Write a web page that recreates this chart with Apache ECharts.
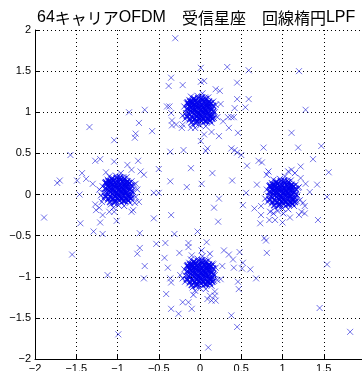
<!DOCTYPE html>
<html>
<head>
<meta charset="utf-8">
<script src="https://cdn.jsdelivr.net/npm/echarts@6/dist/echarts.min.js"></script>
<style>
  html, body { margin: 0; padding: 0; background: #fff; }
  #chart { width: 362px; height: 371px; }
</style>
</head>
<body>
<div id="chart"></div>
<script>
// Received constellation of a 64-carrier OFDM link (QPSK), after an elliptic LPF.
const titleParts = ['64', 'キャリア', 'OFDM', '受信星座', '回線楕円', 'LPF'];

// Axis ticks shared by both axes
const tickValues = [-2, -1.5, -1, -0.5, 0, 0.5, 1, 1.5, 2];
const tickText = ['\u22122', '\u22121.5', '\u22121', '\u22120.5', '0', '0.5', '1', '1.5', '2'];

// Cluster around symbol (0, 1): outer spread
const clusterTop = [
  [0.00,1.02],[0.05,1.04],[-0.04,1.05],[0.02,0.97],[-0.06,1.00],[0.09,1.01],[-0.09,1.08],[0.03,1.11],
  [-0.02,0.92],[0.11,1.09],[-0.12,0.97],[0.07,0.93],[-0.07,0.91],[0.13,0.96],[-0.14,1.04],[0.01,1.16],
  [-0.05,1.15],[0.08,1.14],[0.15,1.05],[-0.10,1.13],[0.04,0.87],[-0.13,0.90],[0.12,0.89],[-0.17,0.99],
  [0.18,1.00],[-0.03,1.20],[0.00,0.84],[0.16,1.13],[-0.16,1.11],[0.10,1.18],[-0.09,0.85],[0.19,1.09],
  [-0.19,1.07],[0.07,0.83],[-0.11,1.19],[0.14,0.87],[-0.18,0.92],[0.21,0.94],[-0.21,0.96],[0.03,1.23],
  [-0.06,0.81],[0.02,1.07],[-0.03,0.98],[0.06,0.99],[-0.08,1.02],[0.10,1.05],[-0.02,1.10],[0.05,1.08],
  [-0.06,1.10],[0.08,0.97],[-0.10,0.95],[0.00,0.95],[0.12,1.02],[-0.04,0.88],[0.06,1.18],[-0.15,0.94],
  [0.17,0.93],[-0.13,1.15],[0.11,0.91],[-0.01,1.13],[0.14,1.11],[-0.11,1.05],[0.09,1.11],[-0.07,1.17],
  [0.04,0.91]
];
// Cluster around symbol (0, 1): dense core
const clusterTopCore = [
  [0.01,1.03],[0.03,1.01],[-0.01,1.05],[-0.03,1.00],[0.04,1.06],[-0.05,1.07],[0.07,1.03],[-0.07,0.98],
  [0.02,0.94],[-0.02,1.08],[0.06,0.96],[-0.04,0.95],[0.08,1.08],[-0.08,1.05],[0.00,1.12],[0.10,0.99],
  [-0.10,1.10],[0.05,1.13],[-0.11,1.01],[0.12,1.06],[-0.06,1.14],[0.09,0.92],[-0.09,0.93],[0.01,0.90],
  [0.13,0.94],[-0.13,1.07],[0.03,1.15],[-0.12,0.92],[0.11,1.13],[-0.03,0.89],[0.14,1.03],[-0.14,0.99],
  [0.07,1.16],[-0.08,1.16],[0.06,0.89],[-0.15,1.12],[0.15,0.97],[-0.02,1.17],[0.12,0.90],[-0.10,0.88],
  [0.16,1.08],[-0.16,0.95],[0.04,1.04],[-0.02,0.98],[0.05,1.00],[-0.05,1.03],[0.02,1.09],[-0.04,1.11],
  [0.08,1.00],[-0.07,1.09],[0.00,0.97],[0.09,1.06],[-0.09,1.00],[0.04,0.92],[-0.01,0.93],[0.11,0.96],
  [-0.11,1.06],[0.06,1.11],[-0.06,0.92],[0.10,1.11],[-0.12,1.13],[0.13,1.11],[-0.14,1.10],[0.08,0.89],
  [-0.05,0.87],[0.15,0.92],[-0.16,1.04],[0.02,1.18],[0.16,1.01],[-0.09,1.13]
];

// Cluster around symbol (-1, 0): outer spread
const clusterLeft = [
  [-0.99,0.05],[-0.94,0.06],[-1.03,0.09],[-0.97,0.00],[-1.05,0.03],[-0.90,0.04],[-1.08,0.11],[-0.96,0.14],
  [-1.01,-0.05],[-0.88,0.12],[-1.11,0.00],[-0.92,-0.04],[-1.06,-0.06],[-0.86,-0.01],[-1.13,0.07],[-0.98,0.19],
  [-1.04,0.18],[-0.91,0.17],[-0.84,0.08],[-1.09,0.16],[-0.95,-0.10],[-1.12,-0.07],[-0.87,-0.08],[-1.16,0.02],
  [-0.81,0.03],[-1.02,0.23],[-0.99,-0.13],[-0.83,0.16],[-1.15,0.14],[-0.89,0.21],[-1.08,-0.12],[-0.80,0.12],
  [-1.18,0.10],[-0.92,-0.14],[-1.10,0.22],[-0.85,-0.10],[-1.17,-0.05],[-0.78,-0.03],[-1.20,-0.01],[-0.96,0.26],
  [-1.05,-0.16],[-0.97,0.10],[-1.02,0.01],[-0.93,0.02],[-1.07,0.05],[-0.89,0.08],[-1.01,0.13],[-0.94,0.11],
  [-1.05,0.13],[-0.91,0.00],[-1.09,-0.02],[-0.99,-0.02],[-0.87,0.05],[-1.03,-0.09],[-0.93,0.21],[-1.14,-0.03],
  [-0.82,-0.04],[-1.12,0.18],[-0.88,-0.06],[-1.00,0.16],[-0.85,0.14],[-1.10,0.08],[-0.90,0.14],[-1.06,0.20],
  [-0.95,-0.06],[-1.22,0.06],[-0.76,0.06],[-1.19,-0.09],[-0.79,-0.10]
];
// Cluster around symbol (-1, 0): dense core
const clusterLeftCore = [
  [-0.98,0.06],[-0.96,0.04],[-1.00,0.08],[-1.02,0.03],[-0.95,0.09],[-1.04,0.10],[-0.92,0.06],[-1.06,0.01],
  [-0.97,-0.03],[-1.01,0.11],[-0.93,-0.01],[-1.03,-0.02],[-0.91,0.11],[-1.07,0.08],[-0.99,0.15],[-0.89,0.02],
  [-1.09,0.13],[-0.94,0.16],[-1.10,0.04],[-0.87,0.09],[-1.05,0.17],[-0.90,-0.05],[-1.08,-0.04],[-0.98,-0.07],
  [-0.86,-0.03],[-1.12,0.10],[-0.96,0.18],[-1.11,-0.05],[-0.88,0.16],[-1.02,-0.08],[-0.85,0.06],[-1.13,0.02],
  [-0.92,0.19],[-1.07,0.19],[-0.93,-0.08],[-1.14,0.15],[-0.84,0.00],[-1.01,0.20],[-0.87,-0.07],[-1.09,-0.09],
  [-0.83,0.11],[-1.15,-0.02],[-0.95,0.07],[-1.01,0.01],[-0.94,0.03],[-1.04,0.06],[-0.97,0.12],[-1.03,0.14],
  [-0.91,0.03],[-1.06,0.12],[-0.99,0.00],[-0.90,0.09],[-1.08,0.03],[-0.95,-0.05],[-1.00,-0.04],[-0.88,-0.01],
  [-1.10,0.09],[-0.93,0.14],[-1.05,-0.05],[-0.89,0.14],[-1.11,0.16],[-0.86,0.14],[-1.13,0.13],[-0.91,-0.08],
  [-1.04,-0.10],[-0.84,-0.05],[-1.15,0.07],[-0.97,0.21],[-0.83,0.04],[-1.08,0.16]
];

// Cluster around symbol (1, 0): outer spread
const clusterRight = [
  [1.00,0.01],[1.05,0.03],[0.96,0.04],[1.02,-0.04],[0.94,-0.01],[1.09,0.00],[0.91,0.07],[1.03,0.10],
  [0.98,-0.09],[1.11,0.08],[0.88,-0.04],[1.07,-0.08],[0.93,-0.10],[1.13,-0.05],[0.86,0.03],[1.01,0.15],
  [0.95,0.14],[1.08,0.13],[1.15,0.04],[0.90,0.12],[1.04,-0.14],[0.87,-0.11],[1.12,-0.12],[0.83,-0.02],
  [1.18,-0.01],[0.97,0.19],[1.00,-0.17],[1.16,0.12],[0.84,0.10],[1.10,0.17],[0.91,-0.16],[1.19,0.08],
  [0.81,0.06],[1.07,-0.18],[0.89,0.18],[1.14,-0.14],[0.82,-0.09],[1.21,-0.07],[0.79,-0.05],[1.03,0.22],
  [0.94,-0.20],[1.02,0.06],[0.97,-0.03],[1.06,-0.02],[0.92,0.01],[1.10,0.04],[0.98,0.09],[1.05,0.07],
  [0.94,0.09],[1.08,-0.04],[0.90,-0.06],[1.00,-0.06],[1.12,0.01],[0.96,-0.13],[1.06,0.17],[0.85,-0.07],
  [1.17,-0.08],[0.87,0.14],[1.11,-0.10],[0.99,0.12],[1.14,0.10],[0.89,0.04],[1.09,0.10],[0.93,0.16],
  [1.04,-0.10],[0.83,0.28],[0.81,0.24],[1.07,0.28],[1.15,0.26],[0.85,-0.21],[0.89,-0.23],[1.01,-0.23]
];
// Cluster around symbol (1, 0): dense core
const clusterRightCore = [
  [1.01,0.02],[1.03,0.00],[0.99,0.04],[0.97,-0.01],[1.04,0.05],[0.95,0.06],[1.07,0.02],[0.93,-0.03],
  [1.02,-0.07],[0.98,0.07],[1.06,-0.05],[0.96,-0.06],[1.08,0.07],[0.92,0.04],[1.00,0.11],[1.10,-0.02],
  [0.90,0.09],[1.05,0.12],[0.89,0.00],[1.12,0.05],[0.94,0.13],[1.09,-0.09],[0.91,-0.08],[1.01,-0.11],
  [1.13,-0.07],[0.87,0.06],[1.03,0.14],[0.88,-0.09],[1.11,0.12],[0.97,-0.12],[1.14,0.02],[0.86,-0.02],
  [1.07,0.15],[0.92,0.15],[1.06,-0.12],[0.85,0.11],[1.15,-0.04],[0.98,0.16],[1.12,-0.11],[0.90,-0.13],
  [1.16,0.07],[0.84,-0.06],[1.04,0.03],[0.98,-0.03],[1.05,-0.01],[0.95,0.02],[1.02,0.08],[0.96,0.10],
  [1.08,-0.01],[0.93,0.08],[1.00,-0.04],[1.09,0.05],[0.91,-0.01],[1.04,-0.09],[0.99,-0.08],[1.11,-0.05],
  [0.89,0.05],[1.06,0.10],[0.94,-0.09],[1.10,0.10],[0.88,0.12],[1.13,0.10],[0.86,0.09],[1.08,-0.12],
  [0.95,-0.14],[1.15,-0.09],[0.84,0.03],[1.02,0.17],[1.16,0.00],[0.91,0.12]
];

// Cluster around symbol (0, -1): outer spread
const clusterBottom = [
  [0.00,-0.96],[0.05,-0.94],[-0.04,-0.93],[0.02,-1.01],[-0.06,-0.98],[0.09,-0.97],[-0.09,-0.90],[0.03,-0.87],
  [-0.02,-1.06],[0.11,-0.89],[-0.12,-1.01],[0.07,-1.05],[-0.07,-1.07],[0.13,-1.02],[-0.14,-0.94],[0.01,-0.82],
  [-0.05,-0.83],[0.08,-0.84],[0.15,-0.93],[-0.10,-0.85],[0.04,-1.11],[-0.13,-1.08],[0.12,-1.09],[-0.17,-0.99],
  [0.18,-0.98],[-0.03,-0.78],[0.00,-1.14],[0.16,-0.85],[-0.16,-0.87],[0.10,-0.80],[-0.09,-1.13],[0.19,-0.89],
  [-0.19,-0.91],[0.07,-1.15],[-0.11,-0.79],[0.14,-1.11],[-0.18,-1.06],[0.21,-1.04],[-0.21,-1.02],[0.03,-0.75],
  [-0.06,-1.17],[0.02,-0.91],[-0.03,-1.00],[0.06,-0.99],[-0.08,-0.96],[0.10,-0.93],[-0.02,-0.88],[0.05,-0.90],
  [-0.06,-0.88],[0.08,-1.01],[-0.10,-1.03],[0.00,-1.03],[0.12,-0.96],[-0.04,-1.10],[0.06,-0.80],[-0.15,-1.04],
  [0.17,-1.05],[-0.13,-0.83],[0.11,-1.07],[-0.01,-0.85],[0.14,-0.87],[-0.11,-0.93],[0.09,-0.87],[-0.07,-0.81],
  [0.04,-1.07],[0.12,-0.72],[0.02,-0.68],[-0.08,-1.22]
];
// Cluster around symbol (0, -1): dense core
const clusterBottomCore = [
  [0.01,-0.95],[0.03,-0.97],[-0.01,-0.93],[-0.03,-0.98],[0.04,-0.92],[-0.05,-0.91],[0.07,-0.95],[-0.07,-1.00],
  [0.02,-1.04],[-0.02,-0.90],[0.06,-1.02],[-0.04,-1.03],[0.08,-0.90],[-0.08,-0.93],[0.00,-0.86],[0.10,-0.99],
  [-0.10,-0.88],[0.05,-0.85],[-0.11,-0.97],[0.12,-0.92],[-0.06,-0.84],[0.09,-1.06],[-0.09,-1.05],[0.01,-1.08],
  [0.13,-1.04],[-0.13,-0.91],[0.03,-0.83],[-0.12,-1.06],[0.11,-0.85],[-0.03,-1.09],[0.14,-0.95],[-0.14,-0.99],
  [0.07,-0.82],[-0.08,-0.82],[0.06,-1.09],[-0.15,-0.86],[0.15,-1.01],[-0.02,-0.81],[0.12,-1.08],[-0.10,-1.10],
  [0.16,-0.90],[-0.16,-1.03],[0.04,-0.94],[-0.02,-1.00],[0.05,-0.98],[-0.05,-0.95],[0.02,-0.89],[-0.04,-0.87],
  [0.08,-0.98],[-0.07,-0.89],[0.00,-1.01],[0.09,-0.92],[-0.09,-0.98],[0.04,-1.06],[-0.01,-1.05],[0.11,-1.02],
  [-0.11,-0.92],[0.06,-0.87],[-0.06,-1.06],[0.10,-0.87],[-0.12,-0.85],[0.13,-0.87],[-0.14,-0.88],[0.08,-1.09],
  [-0.05,-1.11],[0.15,-1.06],[-0.16,-0.94],[0.02,-0.80],[0.16,-0.97],[-0.09,-0.85]
];

// Scattered samples away from the cluster cores
const strayPoints = [
  [-0.30,1.90],[-0.35,1.42],[-0.38,1.32],[-0.21,1.33],[-0.37,1.07],[-0.40,1.07],[-0.35,0.99],[-0.34,0.90],
  [-0.34,0.84],[-0.29,0.85],[-0.21,0.85],[-0.22,0.81],[-0.11,0.81],[-0.36,0.52],[-0.20,0.54],[-0.11,0.32],
  [-0.36,0.16],[-0.16,0.09],[-0.86,1.00],[-0.67,1.03],[-0.74,0.87],[-0.58,0.77],[-0.78,0.74],[-0.79,0.69],
  [-1.34,0.82],[-1.04,0.66],[-1.57,0.48],[-1.27,0.41],[-1.21,0.43],[-1.04,0.40],[-1.43,0.26],[-1.38,0.19],
  [-1.49,0.17],[-1.70,0.17],[-1.73,0.14],[-1.30,0.13],[-0.88,0.36],[-0.83,0.30],[-0.75,0.41],[-0.72,0.28],
  [-0.68,0.24],[-0.78,0.13],[-0.50,0.31],[-0.56,0.02],[-0.50,0.02],[-1.14,0.27],
  [0.33,1.55],[0.59,1.51],[1.20,1.50],[0.01,1.54],[0.01,1.37],[0.05,1.38],[0.45,1.36],[0.19,1.28],
  [0.24,1.26],[0.45,1.16],[0.59,1.16],[0.55,1.06],[0.42,1.05],[0.25,1.10],[1.28,1.03],[0.34,0.94],
  [0.38,0.94],[0.41,0.94],[0.28,0.89],[0.35,0.81],[0.14,0.76],[0.05,0.73],[0.23,0.71],[0.46,0.75],
  [0.01,0.65],[1.11,0.75],[1.47,0.59],[1.19,0.57],[0.77,0.57],[0.07,0.53],[0.09,0.56],[0.38,0.56],
  [0.42,0.54],[0.45,0.51],[0.50,0.48],[0.71,0.41],[0.75,0.39],[0.57,0.35],[1.37,0.43],[1.56,0.27],
  [0.15,0.26],[0.39,0.17],[0.02,0.13],[0.69,0.12],[1.28,0.13],[1.42,0.12],[0.56,0.02],
  [1.22,0.34],[1.11,0.30],[1.22,0.20],[1.20,0.09],[1.33,0.03],[1.54,-0.03],[1.25,-0.10],[1.27,-0.14],
  [1.23,-0.21],[1.27,-0.23],[1.20,-0.25],[1.09,-0.28],[1.00,-0.34],[1.43,-0.31],[1.54,-0.85],[1.45,-1.38],
  [1.82,-1.67],
  [0.23,-0.05],[0.17,-0.16],[0.22,-0.33],[0.52,-0.13],[0.66,-0.17],[0.74,-0.14],[0.74,-0.25],[0.73,-0.35],
  [0.84,-0.31],[0.91,-0.31],[0.78,-0.53],[0.80,-0.56],[0.81,-0.71],[0.08,-0.58],[0.29,-0.68],[0.35,-0.73],
  [0.40,-0.79],[0.48,-0.70],[0.52,-0.83],[0.51,-0.90],[0.61,-0.91],[0.41,-0.89],[0.27,-0.87],[0.15,-0.84],
  [0.68,-1.02],[0.46,-1.06],[0.47,-1.15],[0.25,-1.03],[0.18,-1.18],[0.12,-1.23],[0.18,-1.23],[0.14,-1.29],
  [0.19,-1.29],[0.09,-1.27],[0.38,-1.47],[0.45,-1.61],[0.10,-1.86],
  [-1.89,-0.28],[-1.45,-0.35],[-1.21,-0.34],[-1.18,-0.25],[-1.26,-0.19],[-1.22,-0.16],[-1.10,-0.21],[-1.04,-0.21],
  [-1.01,-0.32],[-0.83,-0.21],[-0.81,-0.19],[-0.74,-0.09],[-1.27,-0.12],[-1.29,-0.45],[-1.18,-0.48],[-1.46,0.00],
  [-0.56,-0.29],[-0.35,-0.25],[-0.73,-0.47],[-0.31,-0.48],[-0.03,-0.45],[-1.55,-0.73],[-1.12,-0.98],[-0.73,-0.65],
  [-0.76,-0.72],[-0.67,-0.87],[-0.68,-1.02],[-0.53,-0.60],[-0.42,-0.59],[-0.43,-0.77],[-0.39,-0.89],[-0.14,-0.59],
  [-0.14,-0.64],[-0.25,-0.71],[-0.10,-0.74],[-0.36,-1.02],[-0.35,-1.07],[-0.24,-0.98],[-0.41,-1.21],[-0.35,-1.39],
  [-0.26,-1.45],[-0.21,-1.31],[-0.14,-1.31],[-0.10,-1.39],[-0.99,-1.70]
];

const chart = echarts.init(document.getElementById('chart'), null, { renderer: 'canvas' });

function tickLabel(v) {
  let best = 0;
  for (let i = 1; i < tickValues.length; i++) {
    if (Math.abs(tickValues[i] - v) < Math.abs(tickValues[best] - v)) best = i;
  }
  return tickText[best];
}

const crossMark = 'path://M0,0L10,10M10,0L0,10';

const axisCommon = {
  type: 'value',
  min: -2,
  max: 2,
  interval: 0.5,
  axisLine: { show: true, onZero: false, lineStyle: { color: '#000', width: 1 } },
  axisTick: { show: true, inside: true, length: 4, lineStyle: { color: '#000' } },
  splitLine: { show: true, lineStyle: { color: '#000', width: 1, type: [1, 3] } },
  axisLabel: {
    color: '#000',
    fontSize: 11,
    fontFamily: 'Liberation Sans, Arial, sans-serif',
    margin: 4,
    showMinLabel: true,
    showMaxLabel: true,
    formatter: tickLabel
  }
};

function crossSeries(data, stroke, width) {
  return {
    type: 'scatter',
    data: data,
    symbol: crossMark,
    symbolSize: 6,
    itemStyle: { color: 'rgba(0,0,0,0)', borderColor: stroke, borderWidth: width },
    silent: true,
    animation: false
  };
}

const strayStroke = 'rgba(10,10,215,0.72)';
const spreadStroke = 'rgba(0,0,230,0.85)';
const coreStroke = 'rgb(0,0,238)';

// Title: CJK runs and Latin runs styled separately, separated by ideographic spaces
const titleRich = {
  k: { fontFamily: 'Noto Sans CJK JP', fontSize: 16, color: '#000' },
  n: { fontFamily: 'Liberation Sans', fontSize: 16, color: '#000' },
  s: { fontFamily: 'Noto Sans CJK JP', fontSize: 16, color: '#000' }
};
const titleText =
  '{n|' + titleParts[0] + '}{k|' + titleParts[1] + '}{n|' + titleParts[2] + '}{s|\u3000}' +
  '{k|' + titleParts[3] + '}{s|\u3000}{k|' + titleParts[4] + '}{n|' + titleParts[5] + '}';

chart.setOption({
  backgroundColor: '#fff',
  animation: false,
  title: {
    text: titleText,
    left: 32,
    top: 5,
    textStyle: { rich: titleRich, fontWeight: 'normal' }
  },
  grid: { left: 35, top: 30, width: 330, height: 329, containLabel: false, outerBoundsMode: 'none' },
  xAxis: axisCommon,
  yAxis: axisCommon,
  series: [
    crossSeries(strayPoints, strayStroke, 1),
    crossSeries(clusterTop, spreadStroke, 1),
    crossSeries(clusterLeft, spreadStroke, 1),
    crossSeries(clusterRight, spreadStroke, 1),
    crossSeries(clusterBottom, spreadStroke, 1),
    crossSeries(clusterTopCore, coreStroke, 1.4),
    crossSeries(clusterLeftCore, coreStroke, 1.4),
    crossSeries(clusterRightCore, coreStroke, 1.4),
    crossSeries(clusterBottomCore, coreStroke, 1.4)
  ]
});
</script>
</body>
</html>
